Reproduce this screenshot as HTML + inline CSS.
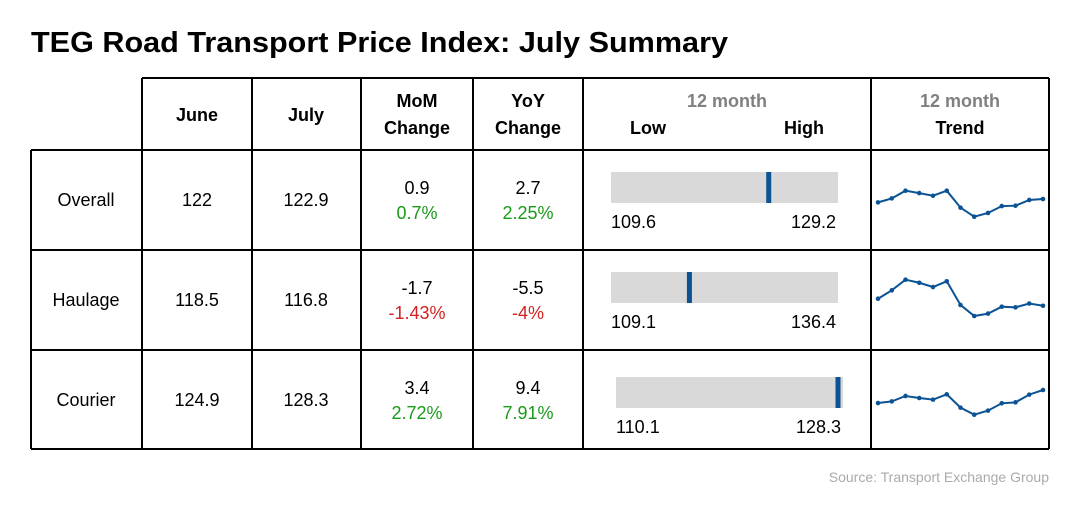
<!DOCTYPE html>
<html><head><meta charset="utf-8"><style>
body{margin:0;background:#fff;width:1080px;height:500px;overflow:hidden;font-family:"Liberation Sans",sans-serif}
</style></head><body>
<svg width="1080" height="500" viewBox="0 0 1080 500" xmlns="http://www.w3.org/2000/svg" font-family="Liberation Sans, sans-serif">
<text x="31" y="52" font-size="29" font-weight="bold" textLength="697" lengthAdjust="spacingAndGlyphs">TEG Road Transport Price Index: July Summary</text>
<g id="grid" stroke="#000" stroke-width="2" fill="none"></g>
<g id="cells" font-size="18" text-anchor="middle"></g>
<text x="1049" y="482" font-size="14" fill="#aaa" text-anchor="end">Source: Transport Exchange Group</text>
</svg>
<script>
const rowNames=["Overall","Haulage","Courier"];
const june=[122,118.5,124.9];
const july=[122.9,116.8,128.3];
const momAbs=["0.9","-1.7","3.4"];
const momPct=["0.7%","-1.43%","2.72%"];
const yoyAbs=["2.7","-5.5","9.4"];
const yoyPct=["2.25%","-4%","7.91%"];
const lows=[109.6,109.1,110.1];
const highs=[129.2,136.4,128.3];
const trendOverall=[120.4,123.4,129.2,127.4,125.4,129.2,116.4,109.6,112.4,117.6,117.9,122.2,122.9];
const trendHaulage=[122.1,128.4,136.4,134.1,130.9,135.2,117.4,109.1,110.9,116.1,115.6,118.5,116.8];
const trendCourier=[118.7,119.9,123.9,122.4,121.2,125.1,115.3,110.1,113.1,118.5,119.2,124.9,128.3];
const trends=[trendOverall,trendHaulage,trendCourier];

const NS="http://www.w3.org/2000/svg";
const grid=document.getElementById('grid'),cells=document.getElementById('cells');
function line(x1,y1,x2,y2){const l=document.createElementNS(NS,'line');l.setAttribute('x1',x1);l.setAttribute('y1',y1);l.setAttribute('x2',x2);l.setAttribute('y2',y2);


grid.appendChild(l);}
function txt(x,y,s,opt){const t=document.createElementNS(NS,'text');t.setAttribute('x',x);t.setAttribute('y',y);t.textContent=s;
if(opt&&opt.fill)t.setAttribute('fill',opt.fill);if(opt&&opt.bold)t.setAttribute('font-weight','bold');if(opt&&opt.anchor)t.setAttribute('text-anchor',opt.anchor);


cells.appendChild(t);return t;}
const cols=[31,142,252,361,473,583,871,1049];
const rows=[78,150,250,350,449];
// horizontal
line(142,rows[0],1049,rows[0]);
for(let i=1;i<rows.length;i++)line(31,rows[i],1049,rows[i]);
// vertical
line(31,rows[1],31,rows[4]);
for(let i=1;i<cols.length;i++)line(cols[i],rows[0],cols[i],rows[4]);
// header
const centers=[86,197,306,417,528,727,960];
txt(centers[1],121,"June",{bold:1,name:'header-june'});
txt(centers[2],121,"July",{bold:1,name:'header-july'});
txt(centers[3],107,"MoM",{bold:1,name:'header-mom'});
txt(centers[3],134,"Change",{bold:1,name:'header-mom'});
txt(centers[4],107,"YoY",{bold:1,name:'header-yoy'});
txt(centers[4],134,"Change",{bold:1,name:'header-yoy'});
txt(centers[5],107,"12 month",{bold:1,fill:'#808080',name:'header-range'});
txt(630,134,"Low",{bold:1,anchor:'start',name:'header-low'});
txt(824,134,"High",{bold:1,anchor:'end',name:'header-high'});
txt(centers[6],107,"12 month",{bold:1,fill:'#808080',name:'header-trend'});
txt(centers[6],134,"Trend",{bold:1,name:'header-trend'});
const green='#1a9a1a',red='#d42020';
const barX=[611,611,616],barW=227;
const sparkTop=[190.7,279.7,390],sparkBot=[216.7,316,414.7];
for(let r=0;r<3;r++){
  const top=rows[r+1];
  txt(centers[0],top+56,rowNames[r],{name:'row-label'});
  txt(centers[1],top+56,String(june[r]),{name:'june-value'});
  txt(centers[2],top+56,String(july[r]),{name:'july-value'});
  txt(centers[3],top+44,momAbs[r],{name:'mom-abs'});
  txt(centers[3],top+69,momPct[r],{fill:momAbs[r][0]==='-'?red:green,name:'mom-pct'});
  txt(centers[4],top+44,yoyAbs[r],{name:'yoy-abs'});
  txt(centers[4],top+69,yoyPct[r],{fill:yoyAbs[r][0]==='-'?red:green,name:'yoy-pct'});
  // range bar
  const by=top+22+(r===2?5:0);
  const rect=document.createElementNS(NS,'rect');
  rect.setAttribute('x',barX[r]);rect.setAttribute('y',by);rect.setAttribute('width',barW);rect.setAttribute('height',31);rect.setAttribute('fill','#d9d9d9');
  
  
  cells.appendChild(rect);
  const frac=(july[r]-lows[r])/(highs[r]-lows[r]);
  const mx=barX[r]+22+frac*200;
  const m=document.createElementNS(NS,'rect');
  m.setAttribute('x',mx-2.5);m.setAttribute('y',by);m.setAttribute('width',5);m.setAttribute('height',31);m.setAttribute('fill','#0b5394');
  
  
  cells.appendChild(m);
  txt(barX[r],by+56,lows[r].toFixed(1),{anchor:'start',name:'range-low'});
  txt(barX[r]+barW-2,by+56,highs[r].toFixed(1),{anchor:'end',name:'range-high'});
  // sparkline
  const d=trends[r],mn=Math.min(...d),mxv=Math.max(...d);
  const xs=i=>878+i*(1043-878)/(d.length-1);
  const ys=v=>sparkBot[r]-(v-mn)/(mxv-mn)*(sparkBot[r]-sparkTop[r]);
  const pl=document.createElementNS(NS,'polyline');
  pl.setAttribute('points',d.map((v,i)=>xs(i)+','+ys(v)).join(' '));
  pl.setAttribute('fill','none');pl.setAttribute('stroke','#0b5394');pl.setAttribute('stroke-width','2');
  
  
  cells.appendChild(pl);
  d.forEach((v,i)=>{const c=document.createElementNS(NS,'circle');c.setAttribute('cx',xs(i));c.setAttribute('cy',ys(v));c.setAttribute('r',2.3);c.setAttribute('fill','#0b5394');
  
  
  cells.appendChild(c);});
}
</script>
</body></html>
